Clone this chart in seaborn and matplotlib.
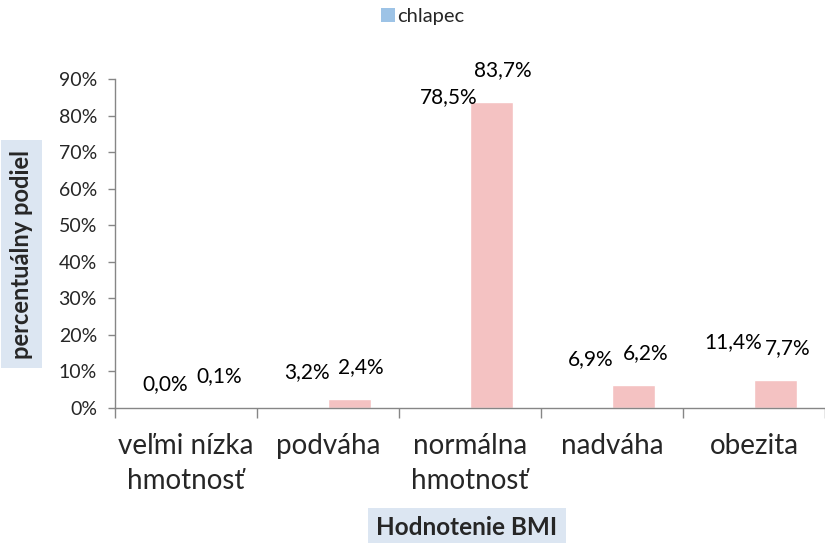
import pandas as pd
import numpy as np
import matplotlib
matplotlib.use("Agg")
import matplotlib.pyplot as plt
import seaborn as sns
from matplotlib.patches import Patch
from matplotlib.ticker import FixedLocator

sns.set_theme(style="white")
plt.rcParams['font.family'] = ['Lato', 'DejaVu Sans']

# data
categories = ["veľmi nízka\nhmotnosť", "podváha", "normálna\nhmotnosť", "nadváha", "obezita"]
chlapec = [0.0, 3.2, 78.5, 6.9, 11.4]
dievca = [0.1, 2.4, 83.7, 6.2, 7.7]
series_names = ["chlapec", "dievča"]
yticks = [0, 10, 20, 30, 40, 50, 60, 70, 80, 90]

df = pd.DataFrame({
    "kategoria": categories * 2,
    "seria": [series_names[0]] * len(categories) + [series_names[1]] * len(categories),
    "hodnota": chlapec + dievca,
})

blue = "#9dc3e6"
pink = "#f4c2c2"
axis_col = "#868686"

fig = plt.figure(figsize=(8.25, 5.43), dpi=100)
ax = fig.add_axes([0.1394, 0.2486, 0.8606, 0.6059])

sns.barplot(data=df, x="kategoria", y="hodnota", hue="seria",
            palette={series_names[0]: blue, series_names[1]: pink},
            width=0.6, gap=0, ax=ax, legend=False, errorbar=None,
            saturation=1)

# first series bars are not shown in the reference
n = len(categories)
for p in ax.patches[:n]:
    p.set_visible(False)

# value labels
offsets = {0: (0, 24), 1: (12, 32)}
for s, vals in enumerate([chlapec, dievca]):
    for i, v in enumerate(vals):
        x = i + (-0.15 if s == 0 else 0.15)
        ax.annotate(f"{v:.1f}%".replace(".", ","), (x, v),
                    xytext=offsets[s], textcoords="offset pixels",
                    ha="center", va="center", fontsize=15, color="black")

ax.set_xlim(-0.5, n - 0.5)
ax.set_ylim(0, 90)
ax.set_yticks(yticks)
ax.set_yticklabels([f"{t}%" for t in yticks], fontsize=14)
ax.xaxis.set_minor_locator(FixedLocator(np.arange(-0.5, n, 1.0)))
ax.tick_params(axis="x", which="major", length=0, labelsize=20, pad=18)
ax.tick_params(axis="x", which="minor", length=7, width=1, color=axis_col, direction="out")
ax.tick_params(axis="y", length=5, width=1, color=axis_col, direction="out", pad=8)
ax.tick_params(bottom=True, left=True, which="both")
for lbl in ax.get_xticklabels():
    lbl.set_linespacing(1.45)

for side in ["top", "right"]:
    ax.spines[side].set_visible(False)
for side in ["left", "bottom"]:
    ax.spines[side].set_color(axis_col)
    ax.spines[side].set_linewidth(1)

ax.grid(False)
ax.set_xlabel("")
ax.set_ylabel("")

fig.text(0.566, 0.028, "Hodnotenie BMI", ha="center", va="center",
         fontsize=17.5, fontweight="bold",
         bbox=dict(boxstyle="square,pad=0.35", facecolor="#dce6f2", edgecolor="none"))
fig.text(0.026, 0.532, "percentuálny podiel", ha="center", va="center",
         rotation=90, fontsize=17, fontweight="bold",
         bbox=dict(boxstyle="square,pad=0.4", facecolor="#dce6f2", edgecolor="none"))

fig.legend(handles=[Patch(facecolor=blue, edgecolor="none", label=series_names[0])],
           loc="center", bbox_to_anchor=(0.512, 0.97), frameon=False,
           fontsize=14.5, handlelength=0.7, handleheight=0.7, handletextpad=0.1)

fig.savefig("out.png", dpi=100)
